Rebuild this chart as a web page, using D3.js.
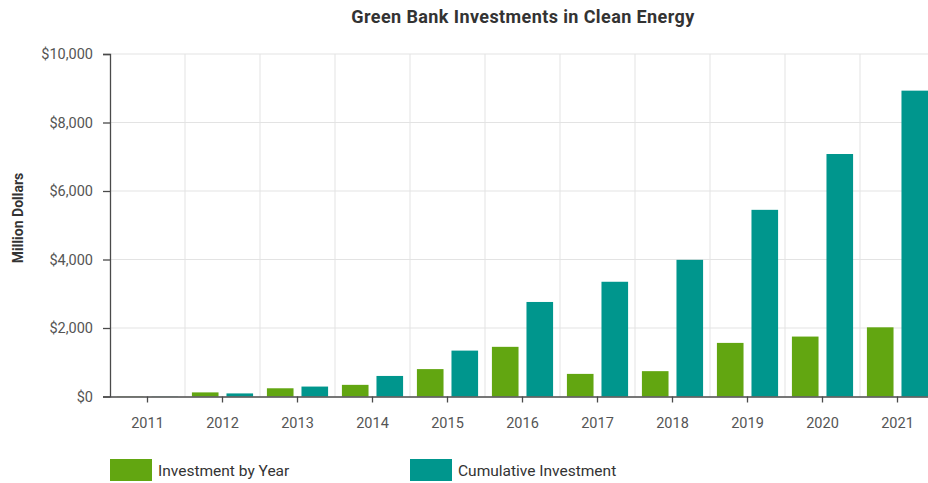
<!DOCTYPE html>
<html>
<head>
<meta charset="utf-8">
<script src="https://cdn.jsdelivr.net/npm/d3@7"></script>
<style>
  body { margin: 0; background: #fff; }
  svg { font-family: Roboto, "Open Sans", sans-serif; }
</style>
</head>
<body>
<svg id="chart"></svg>
<script>
// values (million dollars)
const years = ["2011", "2012", "2013", "2014", "2015", "2016", "2017", "2018", "2019", "2020", "2021"];
const byYear = [5, 120, 240, 340, 800, 1450, 660, 740, 1565, 1750, 2020];
const cumulative = [5, 90, 290, 600, 1340, 2760, 3350, 3990, 5450, 7080, 8930];
const seriesNames = ["Investment by Year", "Cumulative Investment"];
const seriesColors = ["#62a611", "#00968d"];
const yTicks = [0, 2000, 4000, 6000, 8000, 10000];

const width = 928, height = 483;
const margin = { top: 54, right: -7, bottom: 86.5, left: 110 };

const svg = d3.select("#chart").attr("width", width).attr("height", height);

const rows = years.map((y, i) => ({ year: y, values: [byYear[i], cumulative[i]] }));

const x = d3.scaleBand()
  .domain(years)
  .range([margin.left, width - margin.right])
  .padding(0);

const x1 = d3.scaleBand()
  .domain([0, 1])
  .range([0, x.bandwidth()])
  .paddingInner(0.23)
  .paddingOuter(0.2);

const y = d3.scaleLinear()
  .domain([0, 10000])
  .range([height - margin.bottom, margin.top]);

// grid
svg.append("g")
  .selectAll("line.h")
  .data(yTicks.slice(1))
  .join("line")
  .attr("x1", margin.left).attr("x2", width)
  .attr("y1", d => y(d)).attr("y2", d => y(d))
  .attr("stroke", "#e3e3e3").attr("stroke-width", 1);

svg.append("g")
  .selectAll("line.v")
  .data(years.slice(1))
  .join("line")
  .attr("x1", d => x(d)).attr("x2", d => x(d))
  .attr("y1", y(10000)).attr("y2", y(0))
  .attr("stroke", "#e3e3e3").attr("stroke-width", 1);

// bars
svg.append("g")
  .selectAll("g")
  .data(rows)
  .join("g")
  .attr("transform", d => `translate(${x(d.year)},0)`)
  .selectAll("rect")
  .data(d => d.values.map((v, i) => ({ i, v })))
  .join("rect")
  .attr("x", d => x1(d.i))
  .attr("width", x1.bandwidth())
  .attr("y", d => y(d.v))
  .attr("height", d => y(0) - y(d.v))
  .attr("fill", d => seriesColors[d.i]);

// axes
const yAxis = svg.append("g")
  .attr("transform", `translate(${margin.left},0)`)
  .call(d3.axisLeft(y).tickValues(yTicks).tickFormat(d => "$" + d3.format(",")(d)).tickSize(7).tickPadding(10));

const xAxis = svg.append("g")
  .attr("transform", `translate(0,${y(0)})`)
  .call(d3.axisBottom(x).tickSize(6).tickSizeOuter(0).tickPadding(15));

[yAxis, xAxis].forEach(a => {
  a.select(".domain").attr("stroke", "#4a4a4a").attr("stroke-width", 1.3);
  a.selectAll(".tick line").attr("stroke", "#4a4a4a").attr("stroke-width", 1.3);
  a.selectAll("text").attr("fill", "#555").style("font-size", "14.5px").style("font-family", "Roboto, sans-serif");
});

// title
svg.append("text")
  .attr("x", 523).attr("y", 23)
  .attr("text-anchor", "middle")
  .attr("fill", "#333")
  .style("font-size", "18px").style("font-weight", "700")
  .style("letter-spacing", "0.4px")
  .text("Green Bank Investments in Clean Energy");

// y label
svg.append("text")
  .attr("transform", "translate(23,218) rotate(-90)")
  .attr("text-anchor", "middle")
  .attr("fill", "#333")
  .style("font-size", "14px").style("font-weight", "700")
  .text("Million Dollars");

// legend
const legendX = [110, 410];
const legend = svg.append("g")
  .selectAll("g")
  .data(seriesNames)
  .join("g")
  .attr("transform", (d, i) => `translate(${legendX[i]},459)`);

legend.append("rect")
  .attr("width", 42).attr("height", 22)
  .attr("fill", (d, i) => seriesColors[i]);

legend.append("text")
  .attr("x", 48).attr("y", 16.5)
  .attr("fill", "#333")
  .style("font-size", "15.5px")
  .text(d => d);
</script>
</body>
</html>
